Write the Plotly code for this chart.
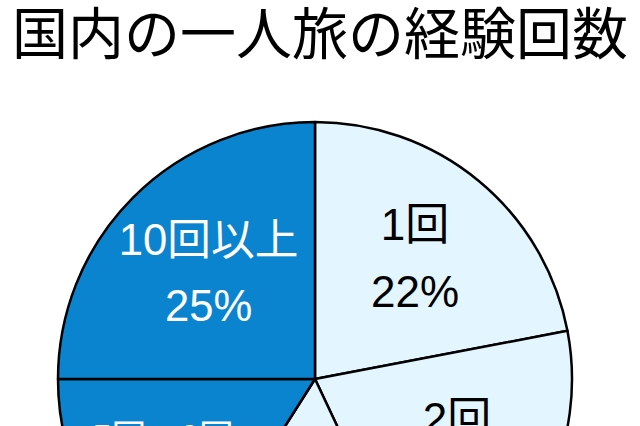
import plotly.graph_objects as go

title_text = "国内の一人旅の経験回数"
categories = ["1回", "2回", "3回～4回", "5回～9回", "10回以上"]
shares = [22, 21, 16, 16, 25]
slice_colors = ["#E3F5FF", "#E3F5FF", "#E3F5FF", "#0B84CF", "#0B84CF"]
text_colors = ["#000000", "#000000", "#000000", "#FFFFFF", "#FFFFFF"]

W, H = 640, 640
fig = go.Figure(
    go.Pie(
        labels=categories,
        values=shares,
        sort=False,
        direction="clockwise",
        rotation=0,
        marker=dict(colors=slice_colors, line=dict(color="#000000", width=2.5)),
        texttemplate=("<span style='font-size:44px'>%{label}</span><br>"
                      "<span style='font-size:44px'>%{value}%</span>"),
        textposition="inside",
        insidetextorientation="horizontal",
        insidetextfont=dict(color=text_colors, size=51,
                            family="Liberation Sans, Arial, Noto Sans CJK JP"),
        domain=dict(x=[57 / W, 573 / W], y=[(H - 379 - 257) / H, (H - 379 + 257) / H]),
        hoverinfo="skip",
        showlegend=False,
    )
)
fig.update_layout(
    width=W,
    height=H,
    margin=dict(l=0, r=0, t=0, b=0),
    paper_bgcolor="#FFFFFF",
    title=dict(
        text=title_text,
        x=0.5,
        xanchor="center",
        y=(H - 34) / H,
        yanchor="middle",
        font=dict(size=56, color="#000000", family="Noto Sans CJK JP"),
    ),
)
fig.write_html(
    "out.html",
    config={"displayModeBar": False},
    post_script="document.body.style.margin='0';document.body.style.overflow='hidden';document.documentElement.style.overflow='hidden';",
)
